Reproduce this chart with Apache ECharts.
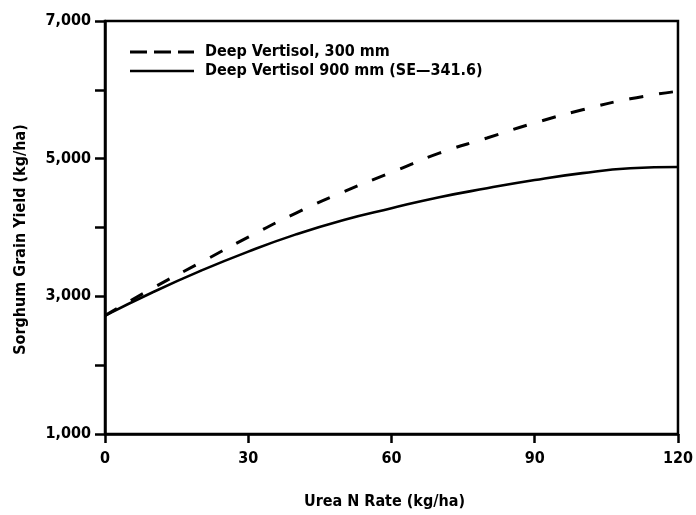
<!DOCTYPE html>
<html>
<head>
<meta charset="utf-8">
<script src="https://cdn.jsdelivr.net/npm/echarts@6/dist/echarts.min.js"></script>
<style>html,body{margin:0;padding:0;background:#fff}#c{width:696px;height:515px}</style>
</head>
<body>
<div id="c"></div>
<script>
var nRates = [0, 10, 20, 30, 40, 50, 60, 70, 80, 90, 100, 110, 120];
var yield300 = [2720, 3120, 3490, 3860, 4210, 4520, 4800, 5080, 5300, 5520, 5710, 5870, 5980];
var yield900 = [2720, 3060, 3370, 3650, 3900, 4110, 4280, 4440, 4570, 4690, 4790, 4860, 4880];
var seriesNames = ['Deep Vertisol, 300 mm', 'Deep Vertisol 900 mm (SE\u2014341.6)'];
var xTitle = 'Urea N Rate (kg/ha)';
var yTitle = 'Sorghum Grain Yield (kg/ha)';

var FONT = "'Liberation Sans Narrow', 'DejaVu Sans Condensed', 'Liberation Sans', sans-serif";

function pairs(xs, ys) { return xs.map(function (x, i) { return [x, ys[i]]; }); }

var chart = echarts.init(document.getElementById('c'), null, { renderer: 'canvas' });
chart.setOption({
  backgroundColor: '#fff',
  animation: false,
  textStyle: { fontFamily: FONT, fontWeight: 'bold', color: '#000' },
  grid: { left: 105, right: 16, top: 21, bottom: 74, show: true, borderColor: '#000', borderWidth: 2.5, containLabel: false },
  legend: {
    orient: 'vertical', left: 125, top: 39, itemWidth: 64, itemHeight: 16, itemGap: 3,
    symbolKeepAspect: true,
    textStyle: { fontFamily: FONT, fontWeight: 'bold', fontSize: 16, color: '#000', padding: [0, 0, 0, 6] },
    data: [
      { name: seriesNames[0], icon: 'path://M0,0h17v3h-17z M24,0h17v3h-17z M48,0h16v3h-16z', itemStyle: { color: '#000' } },
      { name: seriesNames[1], icon: 'path://M0,0h64v2.6h-64z', itemStyle: { color: '#000' } }
    ]
  },
  xAxis: {
    type: 'value', min: 0, max: 120, interval: 30,
    name: xTitle, nameLocation: 'middle', nameGap: 60,
    nameTextStyle: { fontFamily: FONT, fontWeight: 'bold', fontSize: 16, color: '#000', padding: [0, 14, 0, 0] },
    axisLine: { show: true, lineStyle: { color: '#000', width: 2.5 } },
    axisTick: { show: true, length: 9, lineStyle: { color: '#000', width: 2.5 } },
    axisLabel: { fontFamily: FONT, fontWeight: 'bold', fontSize: 16, color: '#000', margin: 17 },
    splitLine: { show: false }
  },
  yAxis: {
    type: 'value', min: 1000, max: 7000, interval: 1000,
    name: yTitle, nameLocation: 'middle', nameGap: 76,
    nameTextStyle: { fontFamily: FONT, fontWeight: 'bold', fontSize: 16, color: '#000', padding: [0, 24, 0, 0] },
    axisLine: { show: true, lineStyle: { color: '#000', width: 2.5 } },
    axisTick: { show: true, length: 10, lineStyle: { color: '#000', width: 2.5 } },
    axisLabel: {
      fontFamily: FONT, fontWeight: 'bold', fontSize: 16, color: '#000', margin: 14,
      formatter: function (v) {
        if ((v / 1000) % 2 !== 1) return '';
        return (v / 1000) + ',000';
      }
    },
    splitLine: { show: false }
  },
  series: [
    {
      name: seriesNames[0], type: 'line', smooth: true, symbol: 'none',
      lineStyle: { color: '#000', width: 3, type: [14, 16] },
      itemStyle: { color: '#000' },
      data: pairs(nRates, yield300)
    },
    {
      name: seriesNames[1], type: 'line', smooth: true, symbol: 'none',
      lineStyle: { color: '#000', width: 2.6, type: 'solid' },
      itemStyle: { color: '#000' },
      data: pairs(nRates, yield900)
    }
  ]
});
</script>
</body>
</html>
